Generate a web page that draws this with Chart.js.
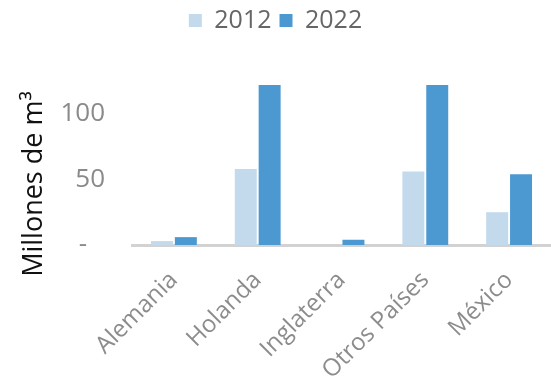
<!DOCTYPE html>
<html>
<head>
<meta charset="utf-8">
<script src="https://cdn.jsdelivr.net/npm/chart.js@4"></script>
<style>
  html, body { margin: 0; padding: 0; background: #ffffff; }
  #wrap { width: 551px; height: 382px; }
</style>
</head>
<body>
<div id="wrap"><canvas id="chart" width="551" height="382"></canvas></div>
<script>
// Exportaciones por destino, millones de m³
const categories = ['Alemania', 'Holanda', 'Inglaterra', 'Otros Países', 'México'];
const values2012 = [3, 58, 0, 56, 25];
const values2022 = [6, 122, 4, 122, 54];
const seriesLabels = ['2012', '2022'];
const yTicks = [0, 50, 100];
const yTitle = 'Millones de m³';

const FONT = "'Open Sans', sans-serif";

// Vertical axis title, drawn beside the value axis
const yTitlePlugin = {
  id: 'yTitle',
  afterDraw(chart) {
    const ctx = chart.ctx;
    ctx.save();
    ctx.translate(34, 184);
    ctx.rotate(-Math.PI / 2);
    ctx.font = '27px ' + FONT;
    ctx.fillStyle = '#111111';
    ctx.textAlign = 'center';
    ctx.textBaseline = 'middle';
    ctx.fillText(yTitle, 0, 0);
    ctx.restore();
  }
};

new Chart(document.getElementById('chart'), {
  type: 'bar',
  data: {
    labels: categories,
    datasets: [
      {
        label: seriesLabels[0],
        data: values2012,
        backgroundColor: '#c3daed',
        categoryPercentage: 0.57,
        barPercentage: 0.92
      },
      {
        label: seriesLabels[1],
        data: values2022,
        backgroundColor: '#4c99d2',
        categoryPercentage: 0.57,
        barPercentage: 0.92
      }
    ]
  },
  plugins: [yTitlePlugin],
  options: {
    responsive: false,
    animation: false,
    layout: { padding: { top: 0, right: 0, bottom: 0, left: 0 } },
    plugins: {
      legend: {
        position: 'top',
        labels: {
          font: { family: FONT, size: 25 },
          color: '#666666',
          boxWidth: 13,
          boxHeight: 13,
          padding: 8
        }
      },
      tooltip: { enabled: false }
    },
    scales: {
      x: {
        grid: { display: false },
        border: { display: true, color: '#d2d2d2', width: 3 },
        ticks: {
          font: { family: FONT, size: 24 },
          color: '#8c8c8c',
          minRotation: 45,
          maxRotation: 45,
          padding: 13
        },
        afterFit(scale) { scale.height = 137; }
      },
      y: {
        min: 0,
        max: 154,
        grid: { display: false, drawTicks: false },
        border: { display: false },
        afterBuildTicks(scale) {
          scale.ticks = yTicks.map(v => ({ value: v }));
        },
        ticks: {
          font: { family: FONT, size: 26 },
          color: '#8a8a8a',
          padding: 27,
          callback: v => (v === 0 ? '-  \u2009' : String(v))
        },
        title: { display: false },
        afterFit(scale) { scale.width = 132; }
      }
    }
  }
});
</script>
</body>
</html>
